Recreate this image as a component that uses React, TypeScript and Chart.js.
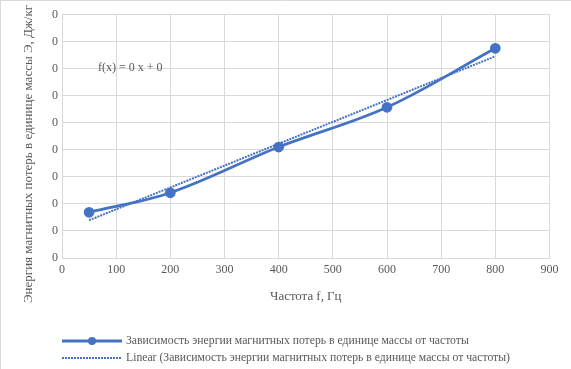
import React, { useEffect, useRef } from "react";
import { Chart, registerables } from "chart.js";

Chart.register(...registerables);

const frequencies = [50, 200, 400, 600, 800];
const lossEnergy = [0.0169, 0.0241, 0.041, 0.0557, 0.0775];
const xTickValues = [0, 100, 200, 300, 400, 500, 600, 700, 800, 900];
const yTickValues = [0, 0.01, 0.02, 0.03, 0.04, 0.05, 0.06, 0.07, 0.08, 0.09];
const seriesLabel = "Зависимость энергии магнитных потерь в единице массы от частоты";
const trendLabel = "Linear (Зависимость энергии магнитных потерь в единице массы от частоты)";
const formulaText = "f(x) = 0 x + 0";
const formulaPos = { x: 126, y: 0.0702 };
const xTitle = "Частота f, Гц";
const yTitle = "Энергия магнитных потерь в единице массы Э, Дж/кг";

const FONT = "'Liberation Serif', 'Times New Roman', serif";
const TEXT = "#595959";
const GRID = "#d9d9d9";
const BLUE = "#4472C4";

function regression(xs: number[], ys: number[]) {
  const n = xs.length;
  const mx = xs.reduce((a, b) => a + b, 0) / n;
  const my = ys.reduce((a, b) => a + b, 0) / n;
  let sxy = 0, sxx = 0;
  for (let i = 0; i < n; i++) {
    sxy += (xs[i] - mx) * (ys[i] - my);
    sxx += (xs[i] - mx) * (xs[i] - mx);
  }
  const b = sxy / sxx;
  return { a: my - b * mx, b };
}

export default function App() {
  const ref = useRef<HTMLCanvasElement | null>(null);
  useEffect(() => {
    document.body.style.margin = "0";
    const reg = regression(frequencies, lossEnergy);
    const x0 = Math.min(...frequencies);
    const x1 = Math.max(...frequencies);
    const overlay = {
      id: "overlay",
      beforeDraw(chart: any) {
        const ctx = chart.ctx;
        ctx.save();
        ctx.fillStyle = "#ffffff";
        ctx.fillRect(0, 0, chart.width, chart.height);
        ctx.strokeStyle = GRID;
        ctx.lineWidth = 1;
        ctx.beginPath();
        ctx.moveTo(0.5, chart.height);
        ctx.lineTo(0.5, 0.5);
        ctx.lineTo(chart.width, 0.5);
        ctx.stroke();
        ctx.restore();
      },
      afterDraw(chart: any) {
        const ctx = chart.ctx;
        const area = chart.chartArea;
        const xs = chart.scales.x;
        const ys = chart.scales.y;
        ctx.save();
        ctx.fillStyle = TEXT;
        ctx.font = `12px ${FONT}`;
        // formula
        ctx.textAlign = "center";
        ctx.textBaseline = "middle";
        ctx.fillText(formulaText, xs.getPixelForValue(formulaPos.x), ys.getPixelForValue(formulaPos.y));
        // x title
        ctx.font = `12.9px ${FONT}`;
        ctx.fillText(xTitle, (area.left + area.right) / 2, area.bottom + 39);
        // y title
        ctx.save();
        ctx.font = `13px ${FONT}`;
        ctx.translate(28.5, area.bottom + 45);
        ctx.rotate(-Math.PI / 2);
        ctx.textAlign = "left";
        ctx.fillText(yTitle, 0, 0);
        ctx.restore();
        // legend
        ctx.font = `11.7px ${FONT}`;
        const lx = area.left;
        const rows = [
          { y: area.bottom + 83, label: seriesLabel, trend: false },
          { y: area.bottom + 100, label: trendLabel, trend: true },
        ];
        for (const r of rows) {
          ctx.save();
          ctx.strokeStyle = BLUE;
          if (r.trend) {
            ctx.lineWidth = 2;
            ctx.setLineDash([2, 1]);
          } else {
            ctx.lineWidth = 3;
          }
          ctx.beginPath();
          ctx.moveTo(lx, r.y);
          ctx.lineTo(lx + 60, r.y);
          ctx.stroke();
          if (!r.trend) {
            ctx.fillStyle = BLUE;
            ctx.beginPath();
            ctx.arc(lx + 30, r.y, 4, 0, Math.PI * 2);
            ctx.fill();
          }
          ctx.restore();
          ctx.textAlign = "left";
          ctx.textBaseline = "middle";
          ctx.fillText(r.label, lx + 64, r.y);
        }
        ctx.restore();
      },
    };
    const chart = new Chart(ref.current as HTMLCanvasElement, {
      type: "line",
      data: {
        datasets: [
          {
            label: trendLabel,
            data: [
              { x: x0, y: reg.a + reg.b * x0 },
              { x: x1, y: reg.a + reg.b * x1 },
            ],
            borderColor: BLUE,
            borderWidth: 2,
            borderDash: [2, 1],
            pointRadius: 0,
            tension: 0,
            order: 0,
          },
          {
            label: seriesLabel,
            data: frequencies.map((f, i) => ({ x: f, y: lossEnergy[i] })),
            borderColor: BLUE,
            backgroundColor: BLUE,
            borderWidth: 2.75,
            pointRadius: 4,
            pointBackgroundColor: BLUE,
            pointBorderColor: BLUE,
            tension: 0.35,
            order: 1,
          },
        ],
      },
      options: {
        animation: false,
        responsive: true,
        maintainAspectRatio: false,
        layout: { padding: { top: 14.5, right: 21.5, left: 0, bottom: 0 } },
        plugins: { legend: { display: false }, tooltip: { enabled: false } },
        scales: {
          x: {
            type: "linear",
            min: 0,
            max: 900,
            afterBuildTicks: (s: any) => {
              s.ticks = xTickValues.map((v) => ({ value: v }));
            },
            afterFit: (s: any) => {
              s.height = 111;
            },
            grid: { color: GRID, drawTicks: false },
            border: { color: GRID },
            ticks: { color: TEXT, font: { family: FONT, size: 12 }, padding: 5, maxRotation: 0 },
          },
          y: {
            type: "linear",
            min: 0,
            max: 0.09,
            afterBuildTicks: (s: any) => {
              s.ticks = yTickValues.map((v) => ({ value: v }));
            },
            afterFit: (s: any) => {
              s.width = 62;
            },
            grid: { color: GRID, drawTicks: false },
            border: { color: GRID },
            ticks: {
              color: TEXT,
              font: { family: FONT, size: 12 },
              padding: 4,
              callback: (v: any) => Number(v).toFixed(0),
            },
          },
        },
      },
      plugins: [overlay],
    } as any);
    return () => chart.destroy();
  }, []);
  return (
    <div style={{ width: 571, height: 369, position: "relative" }}>
      <canvas ref={ref} />
    </div>
  );
}
